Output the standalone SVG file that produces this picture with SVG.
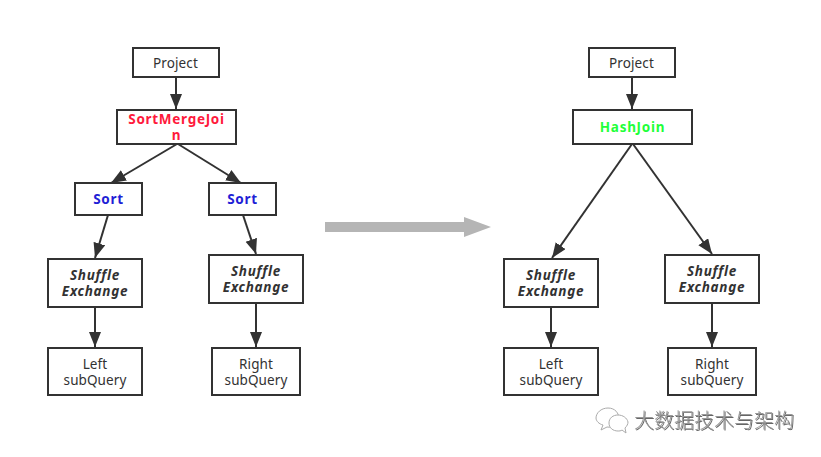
<svg xmlns="http://www.w3.org/2000/svg" width="821" height="457" viewBox="0 0 821 457">
<style>
rect.b{fill:#fff;stroke:#323232;stroke-width:2}
text{font-family:"Noto Sans","Open Sans","Liberation Sans",sans-serif;font-size:13.500px;fill:#323232;text-anchor:middle;letter-spacing:.1px}
.bd{font-weight:700;letter-spacing:.7px}
.it{font-weight:700;font-style:italic;letter-spacing:.7px}
.red{fill:#ff1a3c}.blue{fill:#1f1fd6}.green{fill:#1fff3a}
.c line{stroke:#323232;stroke-width:2}
text.wm{font-family:"Noto Sans CJK SC",sans-serif;font-size:20px;font-weight:300;fill:#999;text-anchor:start;letter-spacing:0}
text.wms{font-family:"Noto Sans CJK SC",sans-serif;font-size:20px;font-weight:300;fill:#666;text-anchor:start;letter-spacing:0}
</style>
<defs>
<marker id="a" markerUnits="userSpaceOnUse" markerWidth="16" markerHeight="13" refX="15" refY="6" orient="auto"><path d="M0 0L15 6L0 12Z" fill="#323232"/></marker>
<filter id="s" x="-5%" y="-10%" width="110%" height="120%"><feGaussianBlur stdDeviation=".35"/></filter>
</defs>
<rect width="821" height="457" fill="#fff"/>
<g class="c" id="connectors">
<line x1="176" y1="77" x2="176" y2="109" marker-end="url(#a)"/>
<line x1="177" y1="144" x2="111" y2="183" marker-end="url(#a)"/>
<line x1="178" y1="144" x2="241" y2="183" marker-end="url(#a)"/>
<line x1="108" y1="215" x2="95" y2="258" marker-end="url(#a)"/>
<line x1="243" y1="215" x2="256" y2="254" marker-end="url(#a)"/>
<line x1="95" y1="307" x2="95" y2="347" marker-end="url(#a)"/>
<line x1="256" y1="303" x2="256" y2="347" marker-end="url(#a)"/>
<line x1="632" y1="77" x2="632" y2="109" marker-end="url(#a)"/>
<line x1="632" y1="144" x2="552" y2="258" marker-end="url(#a)"/>
<line x1="633" y1="144" x2="712" y2="254" marker-end="url(#a)"/>
<line x1="551" y1="307" x2="551" y2="347" marker-end="url(#a)"/>
<line x1="712" y1="303" x2="712" y2="347" marker-end="url(#a)"/>
</g>
<g id="l-project"><rect class="b" x="133" y="48" width="86" height="29"/><text x="175.500" y="67.500">Project</text></g>
<g id="l-smj"><rect class="b" x="117" y="110" width="119" height="34"/><text class="bd red" y="123.500"><tspan x="176.500">SortMergeJoi</tspan><tspan x="176.500" dy="16.500">n</tspan></text></g>
<g id="l-sort1"><rect class="b" x="75" y="183" width="67" height="32"/><text class="bd blue" x="108.500" y="204">Sort</text></g>
<g id="l-sort2"><rect class="b" x="209" y="183" width="67" height="32"/><text class="bd blue" x="242.500" y="204">Sort</text></g>
<g id="l-shuffle1"><rect class="b" x="48" y="259" width="94" height="48"/><text class="it" y="280"><tspan x="95">Shuffle</tspan><tspan x="95" dy="16">Exchange</tspan></text></g>
<g id="l-shuffle2"><rect class="b" x="209" y="255" width="94" height="48"/><text class="it" y="276"><tspan x="256">Shuffle</tspan><tspan x="256" dy="16">Exchange</tspan></text></g>
<g id="l-left"><rect class="b" x="48" y="348" width="94" height="47"/><text y="369"><tspan x="95">Left</tspan><tspan x="95" dy="16">subQuery</tspan></text></g>
<g id="l-right"><rect class="b" x="212" y="348" width="88" height="47"/><text y="369"><tspan x="256">Right</tspan><tspan x="256" dy="16">subQuery</tspan></text></g>
<g id="bigarrow"><path d="M325 222H464V217L491 227L464 237V232H325Z" fill="#b5b5b5"/></g>
<g id="r-project"><rect class="b" x="589" y="48" width="86" height="29"/><text x="631.500" y="67.500">Project</text></g>
<g id="r-hash"><rect class="b" x="573" y="110" width="119" height="34"/><text class="bd green" x="632.500" y="132">HashJoin</text></g>
<g id="r-shuffle1"><rect class="b" x="504" y="259" width="94" height="48"/><text class="it" y="280"><tspan x="551">Shuffle</tspan><tspan x="551" dy="16">Exchange</tspan></text></g>
<g id="r-shuffle2"><rect class="b" x="665" y="255" width="94" height="48"/><text class="it" y="276"><tspan x="712">Shuffle</tspan><tspan x="712" dy="16">Exchange</tspan></text></g>
<g id="r-left"><rect class="b" x="504" y="348" width="94" height="47"/><text y="369"><tspan x="551">Left</tspan><tspan x="551" dy="16">subQuery</tspan></text></g>
<g id="r-right"><rect class="b" x="668" y="348" width="88" height="47"/><text y="369"><tspan x="712">Right</tspan><tspan x="712" dy="16">subQuery</tspan></text></g>
<g id="watermark" filter="url(#s)">
<g fill="#fff" stroke="#aaa" stroke-width="1"><path d="M603 425l-2 5 6-3c6 1 11-2 12-8 0-6-4-11-11-11s-12 5-12 10c0 3 3 6 7 7Z"/><path d="M622 430l4 3-1-5c2-2 3-4 3-6-1-4-5-7-10-7s-9 3-9 8 4 8 9 8c1 0 3 0 4-1Z"/></g>
<text class="wms" x="635" y="429">大数据技术与架构</text>
<text class="wm" x="634" y="428">大数据技术与架构</text>
</g>
</svg>
